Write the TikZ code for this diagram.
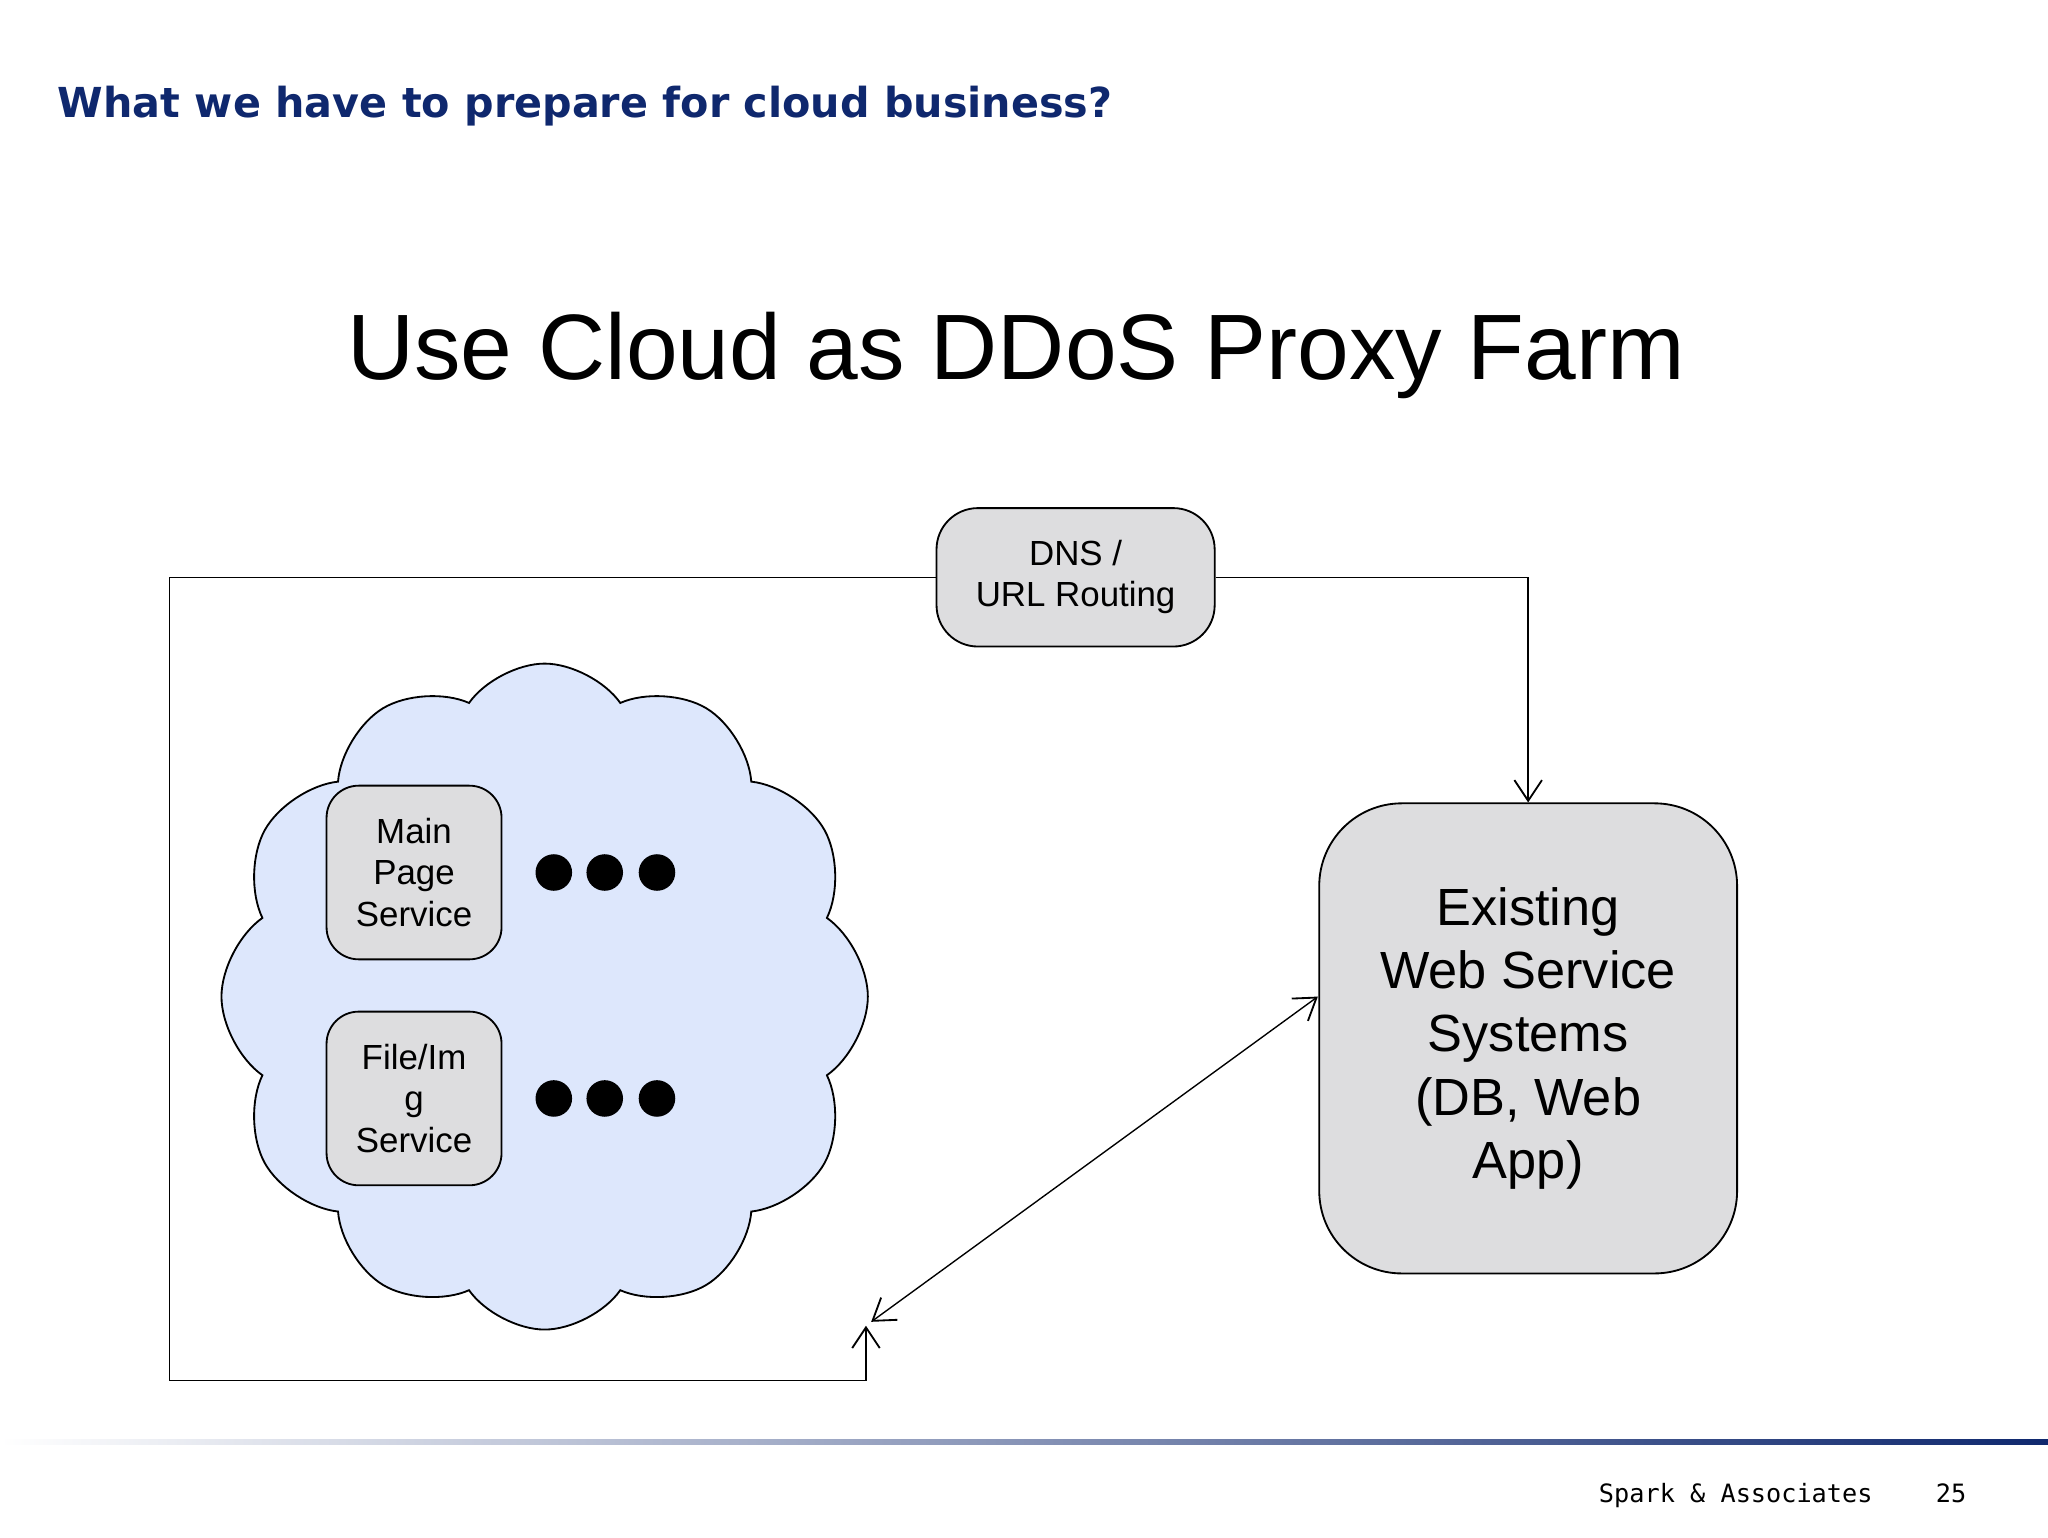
\documentclass[tikz,border=0pt]{standalone}
\usepackage{fontspec}
\setmainfont{Liberation Sans}
\newfontfamily\titlefont{DejaVu Sans}
\newfontfamily\monofont{DejaVu Sans Mono}
\usetikzlibrary{shapes.symbols,arrows.meta}
\definecolor{navy}{RGB}{15,40,110}
\definecolor{boxgray}{RGB}{221,221,223}
\definecolor{cloudblue}{RGB}{221,231,252}
\tikzset{
  gbox/.style={draw,fill=boxgray,rounded corners=#1,line width=0.8pt,align=center},
  conn/.style={line width=0.6pt},
  tip/.style={-{Straight Barb[length=9pt,width=12pt,line width=0.8pt]}},
  dot/.style={circle,fill=black,minimum size=0.56cm,inner sep=0pt}
}
\begin{document}
\begin{tikzpicture}[x=0.02cm,y=-0.02cm]
\useasboundingbox (0,0) rectangle (1568,1177);
\fill[white] (0,0) rectangle (1568,1177);
\node[anchor=base west,inner sep=0pt,text=navy,font=\titlefont\bfseries\fontsize{18}{22}\selectfont] (title) at (44,90) {What we have to prepare for cloud business?};
\node[font=\fontsize{40.5}{48}\selectfont] (head) at (778,272) {Use Cloud as DDoS Proxy Farm};
% cloud
\node[cloud,cloud puffs=12,cloud puff arc=110,aspect=0.95,draw,fill=cloudblue,line width=0.8pt,minimum width=9.9cm,minimum height=10.2cm] (cl) at (417,763) {};
% boxes
\node[gbox=18pt,minimum width=4.26cm,minimum height=2.12cm,font=\fontsize{15.2}{18}\selectfont] (dns) at (823.5,442) {DNS /\\URL Routing};
\node[gbox=36pt,minimum width=6.4cm,minimum height=7.2cm,font=\fontsize{22.8}{27.5}\selectfont] (ex) at (1170,795) {Existing\\Web Service\\Systems\\(DB, Web\\App)};
\node[gbox=14pt,minimum width=2.68cm,minimum height=2.66cm,font=\fontsize{15.2}{18}\selectfont] (mp) at (317,668) {Main\\Page\\Service};
\node[gbox=14pt,minimum width=2.68cm,minimum height=2.66cm,font=\fontsize{15.2}{18}\selectfont] (fi) at (317,841) {File/Im\\g\\Service};
\foreach \x/\n in {424/a,463/b,503/c}{
  \node[dot] (d1\n) at (\x,668) {};
  \node[dot] (d2\n) at (\x,841) {};
}
% connectors
\coordinate (lend) at (663,1015);
\draw[conn,tip] (dns.west) -- (130,442) -- (130,1057) -- (663,1057) -- (lend);
\draw[conn,tip] (dns.east) -- (1170,442) -- (ex.north);
\draw[conn,{Straight Barb[length=9pt,width=12pt,line width=0.8pt]}-{Straight Barb[length=9pt,width=12pt,line width=0.8pt]}] (667,1012) -- (1009,763);
% bottom rule
\shade[left color=white,right color=navy] (0,1102) rectangle (1568,1106);
\node[anchor=base west,font=\monofont\fontsize{11}{13}\selectfont] (ft) at (1218,1150) {Spark \& Associates};
\node[anchor=base west,font=\monofont\fontsize{11}{13}\selectfont] (pg) at (1476,1150) {25};
\end{tikzpicture}
\end{document}
